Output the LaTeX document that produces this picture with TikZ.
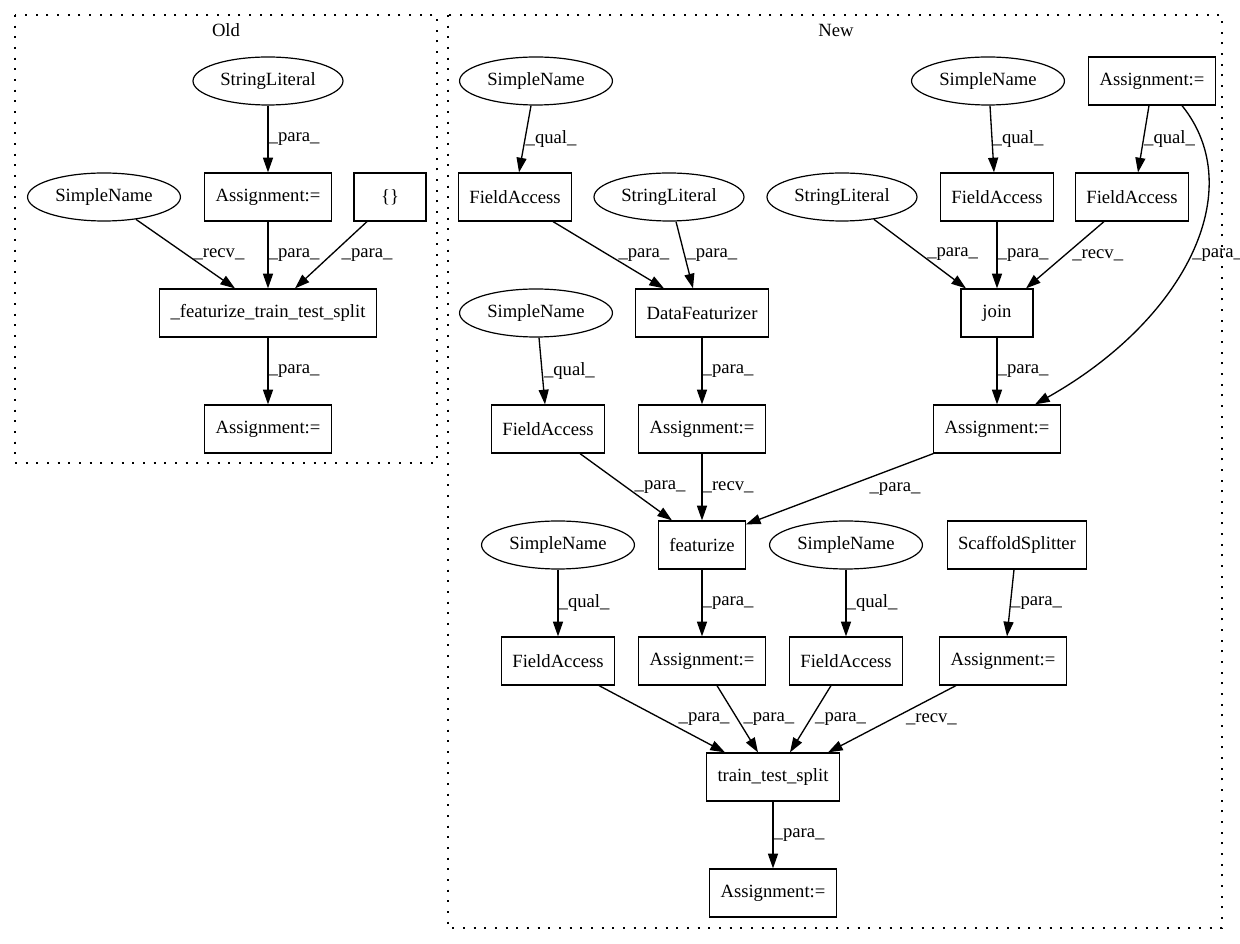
\documentclass[tikz,border=0pt]{standalone}
\usepackage{fontspec}
\setmainfont{Liberation Serif}
\usetikzlibrary{shapes.geometric,arrows.meta}

\tikzset{
  box/.style={draw, rectangle, minimum height=36pt, minimum width=54pt, inner xsep=8pt, inner ysep=2pt, line width=0.9pt},
  oval/.style={draw, ellipse, minimum height=36pt, minimum width=54pt, inner xsep=4pt, inner ysep=2pt, line width=0.9pt},
  arr/.style={-{Triangle[length=11pt,width=7.5pt]}, line width=1pt},
  lbl/.style={anchor=west, inner sep=0pt},
  cluster/.style={dash pattern=on 1.5pt off 6.5pt, line width=1pt}
}

\begin{document}
\begin{tikzpicture}[x=0.75pt, y=-0.75pt, font=\fontsize{14}{16}\selectfont]
\useasboundingbox (0,0) rectangle (1240,944);

% clusters
\draw[cluster] (15,15) rectangle (437,463);
\draw[cluster] (448,15) rectangle (1222,928);
\node (tOld) at (226,30) {Old};
\node (tNew) at (836,30) {New};

% Old
\node[oval] (osl) at (268,81) {StringLiteral};
\node[oval] (osn) at (104,197) {SimpleName};
\node[box] (oa1) at (268,197) {Assignment:=};
\node[box] (obr) at (390,197) {\{\}};
\node[box] (ofz) at (268,313) {\_featurize\_train\_test\_split};
\node[box] (oa2) at (268,429) {Assignment:=};

\draw[arr] (osl.south) -- (oa1.north) node[lbl, pos=0.5] {\_para\_};
\draw[arr] (osn.-35) -- ([shift={(-33,0)}]ofz.north) node[lbl, pos=0.5, xshift=5.6pt] {\_recv\_};
\draw[arr] (oa1.south) -- (ofz.north) node[lbl, pos=0.5] {\_para\_};
\draw[arr] ([shift={(-23,0)}]obr.south) -- ([shift={(27,0)}]ofz.north) node[lbl, pos=0.5, xshift=7.5pt] {\_para\_};
\draw[arr] (ofz.south) -- (oa2.north) node[lbl, pos=0.5] {\_para\_};

% New
\node[oval] (sn1) at (536,81) {SimpleName};
\node[oval] (sn2) at (988,81) {SimpleName};
\node[box] (atop) at (1152,81) {Assignment:=};
\node[box] (fa1) at (515,197) {FieldAccess};
\node[oval] (sl1) at (669,197) {StringLiteral};
\node[oval] (sl2) at (842,197) {StringLiteral};
\node[box] (fa2) at (997,197) {FieldAccess};
\node[box] (fa3) at (1132,197) {FieldAccess};
\node[oval] (sn3) at (536,313) {SimpleName};
\node[box] (df) at (702,313) {DataFeaturizer};
\node[box] (jn) at (997,313) {join};
\node[box] (fa4) at (548,429) {FieldAccess};
\node[box] (adf) at (702,429) {Assignment:=};
\node[box] (aj) at (997,429) {Assignment:=};
\node[box] (fz) at (702,545) {featurize};
\node[oval] (sn4) at (558,545) {SimpleName};
\node[oval] (sn5) at (846,545) {SimpleName};
\node[box] (ss) at (1017,545) {ScaffoldSplitter};
\node[box] (fa5) at (558,661) {FieldAccess};
\node[box] (afz) at (702,661) {Assignment:=};
\node[box] (fa6) at (846,661) {FieldAccess};
\node[box] (ass) at (1003,661) {Assignment:=};
\node[box] (tts) at (773,777) {train\_test\_split};
\node[box] (abt) at (773,893) {Assignment:=};

\draw[arr] ([shift={(-5,0)}]sn1.south) -- ([shift={(4,0)}]fa1.north) node[lbl, pos=0.5] {\_qual\_};
\draw[arr] ([shift={(38,0)}]fa1.south) -- ([shift={(-38,0)}]df.north) node[lbl, pos=0.5, xshift=7pt] {\_para\_};
\draw[arr] ([shift={(7,0)}]sl1.south) -- ([shift={(-9,0)}]df.north) node[lbl, pos=0.5, xshift=1pt] {\_para\_};
\draw[arr] ([shift={(2,0)}]sn2.south) -- ([shift={(-3,0)}]fa2.north) node[lbl, pos=0.5] {\_qual\_};
\draw[arr] ([shift={(-3,0)}]atop.south) -- ([shift={(6,0)}]fa3.north) node[lbl, pos=0.5] {\_qual\_};
\draw[arr] ([shift={(30,0)}]atop.south) .. controls (1250,190) and (1185,320) .. ([shift={(38,0)}]aj.north) node[lbl, pos=0.5, xshift=1pt] {\_para\_};
\draw[arr] (sl2.-35) -- ([shift={(-31,0)}]jn.north) node[lbl, pos=0.5, xshift=5pt] {\_para\_};
\draw[arr] (fa2.south) -- (jn.north) node[lbl, pos=0.5] {\_para\_};
\draw[arr] ([shift={(-28,0)}]fa3.south) -- ([shift={(29,0)}]jn.north) node[lbl, pos=0.5, xshift=5pt] {\_recv\_};
\draw[arr] ([shift={(3,0)}]sn3.south) -- ([shift={(-3,0)}]fa4.north) node[lbl, pos=0.5, xshift=1pt] {\_qual\_};
\draw[arr] (df.south) -- (adf.north) node[lbl, pos=0.5] {\_para\_};
\draw[arr] (jn.south) -- (aj.north) node[lbl, pos=0.5] {\_para\_};
\draw[arr] ([shift={(32,0)}]fa4.south) -- ([shift={(-30,0)}]fz.north) node[lbl, pos=0.5, xshift=6pt] {\_para\_};
\draw[arr] (adf.south) -- (fz.north) node[lbl, pos=0.5] {\_recv\_};
\draw[arr] (aj.south west) -- ([shift={(0,4)}]fz.north east) node[lbl, pos=0.5, xshift=22pt] {\_para\_};
\draw[arr] (sn4.south) -- (fa5.north) node[lbl, pos=0.5] {\_qual\_};
\draw[arr] (fz.south) -- (afz.north) node[lbl, pos=0.5] {\_para\_};
\draw[arr] (sn5.south) -- (fa6.north) node[lbl, pos=0.5] {\_qual\_};
\draw[arr] ([shift={(-3,0)}]ss.south) -- ([shift={(4,0)}]ass.north) node[lbl, pos=0.5] {\_para\_};
\draw[arr] ([shift={(41,0)}]fa5.south) -- ([shift={(-48,0)}]tts.north) node[lbl, pos=0.5, xshift=12pt] {\_para\_};
\draw[arr] ([shift={(15,0)}]afz.south) -- ([shift={(-15,0)}]tts.north) node[lbl, pos=0.5, xshift=4pt] {\_para\_};
\draw[arr] ([shift={(-15,0)}]fa6.south) -- ([shift={(17,0)}]tts.north) node[lbl, pos=0.5, xshift=3pt] {\_para\_};
\draw[arr] ([shift={(-47,0)}]ass.south) -- ([shift={(55,0)}]tts.north) node[lbl, pos=0.5, xshift=10pt] {\_recv\_};
\draw[arr] (tts.south) -- (abt.north) node[lbl, pos=0.5] {\_para\_};
\end{tikzpicture}
\end{document}
